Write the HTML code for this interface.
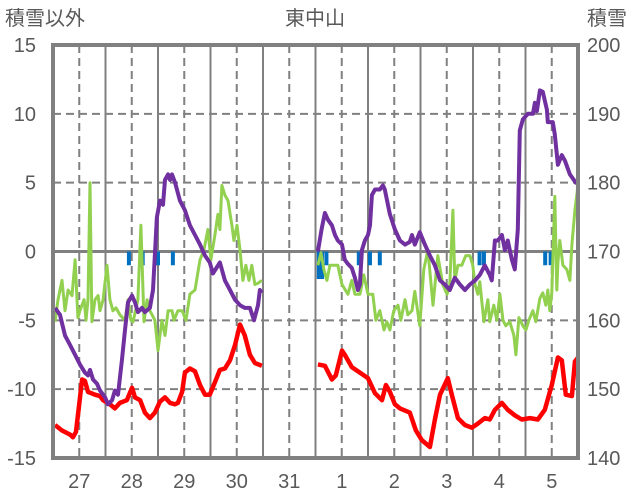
<!DOCTYPE html>
<html><head><meta charset="utf-8"><style>
html,body{margin:0;padding:0;background:#fff;}
svg{display:block;font-family:"Liberation Sans","Noto Sans CJK JP",sans-serif;}
</style></head><body>
<svg id="chart" width="636" height="501" viewBox="0 0 636 501" xmlns="http://www.w3.org/2000/svg">
<text x="5" y="25" font-size="20" fill="#595959">積雪以外</text>
<text x="315" y="25" font-size="20" fill="#595959" text-anchor="middle">東中山</text>
<text x="587" y="25" font-size="20" fill="#595959">積雪</text>
<g id="grid"></g>
<g id="bars"></g>
<g id="lines"></g>
<g id="axes"></g>
</svg>
<script>
const leftTicks=[15,10,5,0,-5,-10,-15];
const rightTicks=[200,190,180,170,160,150,140];
const dayLabels=["27","28","29","30","31","1","2","3","4","5"];
const barHours=[34.7,41.0,48.0,54.8,121.5,123.0,125.0,139.8,144.9,149.4,195.0,197.0,225.0,227.5];
const barValues=[-1,-1,-1,-1,-2,-2,-1,-1,-1,-1,-1,-1,-1,-1];
const purpleHours=[0.9,3.2,5.5,7.8,10.1,12.3,14.6,16.0,16.9,18.3,20.1,21.5,23.8,25.1,27.0,28.3,29.7,31.5,32.9,34.3,36.1,37.5,38.8,40.7,42.0,44.3,45.7,47.5,48.9,50.3,51.2,52.6,53.5,54.4,55.8,58.0,60.3,62.6,64.9,67.2,69.5,71.7,73.1,76.3,78.6,80.9,83.2,85.5,87.7,90.0,91.9,93.7,94.6,95.5,108,
121.1,122.9,124.3,125.7,127.5,128.9,130.2,132.1,133.4,134.8,136.6,138.0,139.4,140.3,141.2,142.6,144.0,144.9,145.8,147.2,149.4,150.8,151.7,154.0,156.3,158.6,160.9,163.1,164.1,165.4,167.7,170.0,172.3,174.6,176.9,179.1,181.4,183.7,186.0,188.3,190.6,192.9,195.1,197.4,199.7,200.6,202.0,203.4,205.2,206.6,207.9,208.8,209.8,211.1,212.5,213.4,214.8,217.1,219.4,220.3,221.2,222.6,223.9,225.8,226.2,228.5,229.4,230.8,232.6,234.0,236.3,239.0,240];
const purpleValues=[-4.1,-4.6,-6.1,-6.8,-7.5,-8.2,-8.8,-9.0,-8.6,-9.3,-9.6,-10.1,-10.6,-11.1,-10.8,-10.1,-10.4,-7.9,-5.7,-3.7,-3.2,-3.7,-4.4,-4.1,-4.4,-4.1,-2.8,2.5,3.7,3.4,5.2,5.6,5.2,5.6,5.0,3.7,3.0,1.9,1.2,0.5,-0.3,-0.8,-1.6,-0.8,-2.1,-2.8,-3.5,-3.9,-4.1,-4.1,-5.0,-3.9,-2.8,-3.0,null,
0,1.7,2.8,2.3,1.9,1.2,0.8,0.5,-0.6,-0.9,-1.2,-1.9,-2.8,-2.4,0.1,0.8,1.2,1.9,4.1,4.5,4.5,4.8,4.5,2.7,1.6,0.8,0.5,0.7,1.2,0.5,1.4,0.5,-0.3,-1.0,-2.1,-2.4,-2.8,-1.9,-2.4,-2.8,-2.4,-2.1,-1.7,-1.0,-1.7,-2.1,0.8,0.8,1.2,0.1,0.8,0.1,-0.6,-1.3,1.6,8.8,9.6,10.0,10.0,10.8,10.2,11.7,11.6,10.3,9.4,9.4,8.5,6.3,7.0,6.6,5.6,5.0,5.0];
const greenHours=[0.9,2.3,4.1,5.5,6.9,8.7,10.1,11.4,12.3,14.2,15.1,16.0,16.9,17.8,19.2,20.6,21.5,22.9,24.7,26.0,27.4,28.8,30.6,32.9,34.3,35.6,36.6,38.8,40.2,41.6,43.0,44.3,46.6,48.0,49.8,51.2,52.6,54.4,55.3,57.1,59.0,60.8,62.6,64.9,67.2,69.0,70.8,72.2,74.0,75.4,76.3,77.2,78.6,80.0,81.8,82.7,84.1,85.5,86.8,88.2,89.6,90.9,92.3,93.7,95.5,108,
121.1,122.5,123.8,125.2,126.6,130.2,132.1,134.8,136.6,138.0,140.3,142.1,144.0,146.2,147.6,149.4,151.3,152.6,154.0,155.8,157.7,159.0,160.9,162.2,164.1,165.4,167.7,169.5,171.4,173.7,175.9,178.2,180.1,181.4,182.8,183.7,185.1,186.9,188.7,190.6,191.9,192.9,194.2,195.1,197.0,198.8,199.7,201.5,202.9,204.3,205.7,207.0,208.8,210.7,211.6,213.0,214.8,216.2,217.5,219.4,220.7,222.6,223.9,225.3,226.2,227.1,228.0,229.4,230.3,230.8,231.7,233.1,234.9,236.3,237.2,238.6,240.0];
const greenValues=[-5.1,-3.5,-2.1,-4.3,-2.8,-3.2,-0.6,-4.8,-4.3,-3.5,-5.0,-3.5,5.0,-5.1,-3.5,-3.2,-4.3,-3.5,-1.0,-3.5,-4.3,-4.1,-4.6,-5.0,-3.5,-5.0,-5.1,-3.5,1.9,-5.1,-3.5,-4.3,-5.0,-7.2,-5.0,-6.1,-4.3,-4.3,-5.0,-4.3,-4.3,-5.0,-3.1,-2.8,-0.6,0.1,1.6,-0.6,1.2,2.7,1.6,4.8,4.1,3.7,1.9,0.8,1.9,0.1,-2.1,-1.0,-2.1,-1.0,-2.4,-2.3,-2.1,null,
-1.0,-0.1,-1.3,-2.1,-1.0,-1.0,-2.4,-3.1,-2.1,-3.1,-3.1,-1.7,-3.1,-3.1,-5.0,-4.3,-5.7,-5.1,-5.7,-4.3,-3.9,-5.0,-3.5,-4.6,-4.3,-2.9,-5.4,-1.3,0.1,-3.9,-0.3,-2.4,-3.1,-2.4,3.0,-2.1,-1.0,-1.0,-0.3,-0.3,-1.0,-2.4,-3.1,-2.2,-5.1,-3.5,-5.1,-3.9,-5.0,-3.1,-5.0,-5.4,-5.1,-6.1,-7.5,-4.8,-5.4,-5.7,-5.0,-4.3,-5.1,-3.4,-3.0,-3.9,-2.8,-4.3,-3.0,4.0,-2.8,-0.8,0.8,-1.0,-1.3,-2.1,0.5,3.0,4.8];
const redHours=[0.9,4.1,7.8,9.1,10.5,13.3,14.6,16.0,19.2,21.5,22.9,26.0,28.3,30.6,33.8,36.1,37.5,39.8,42.0,44.3,46.6,48.9,51.2,53.5,55.8,57.1,59.0,60.3,62.6,64.9,67.2,69.5,71.7,74.0,76.3,78.6,80.9,83.2,85.5,87.7,90.0,92.3,95.5,108,
121.1,124.3,127.5,129.3,132.1,133.4,136.6,140.3,144.0,147.2,150.4,152.2,154.0,156.3,158.6,163.1,165.9,168.6,172.3,174.6,176.9,180.5,182.3,185.1,188.3,191.5,194.2,197.4,199.7,202.0,205.2,207.9,211.1,214.3,218.0,221.6,224.8,228.0,230.8,232.6,234.4,237.2,238.6,240];
const redValues=[-12.6,-13.0,-13.3,-13.5,-13.1,-9.3,-9.4,-10.2,-10.4,-10.5,-10.8,-11.1,-11.4,-11.0,-10.8,-9.9,-10.6,-10.8,-11.7,-12.1,-11.7,-10.9,-10.6,-11.0,-11.1,-11.0,-10.2,-8.8,-8.5,-8.7,-9.7,-10.4,-10.4,-9.5,-8.6,-8.5,-7.9,-6.8,-5.3,-6.1,-7.5,-8.1,-8.3,null,
-8.2,-8.3,-9.3,-9.0,-7.2,-7.5,-8.4,-8.8,-9.2,-10.3,-10.8,-9.7,-10.2,-11.1,-11.4,-11.7,-13.0,-13.7,-14.2,-12.2,-10.4,-9.2,-10.4,-12.1,-12.6,-12.8,-12.5,-12.1,-12.2,-11.5,-11.0,-11.5,-11.9,-12.2,-12.1,-12.2,-11.5,-9.7,-7.7,-7.9,-10.4,-10.5,-8.0,-7.7];

const NS="http://www.w3.org/2000/svg";
const L=53,R=578,T=45,B=458;
const X=h=>L+(h/240)*(R-L);
const Y=v=>T+(15-v)/30*(B-T);
const Y2=v=>T+(200-v)/60*(B-T);
function mk(tag,attrs,parent){const e=document.createElementNS(NS,tag);for(const k in attrs)e.setAttribute(k,attrs[k]);parent.appendChild(e);return e;}
const grid=document.getElementById('grid'),bars=document.getElementById('bars'),lines=document.getElementById('lines'),axes=document.getElementById('axes');

leftTicks.forEach(v=>{
  if(v!==15&&v!==-15&&v!==0){
    const g=mk('line',{x1:L,x2:R,y1:Y(v),y2:Y(v),stroke:'#808080','stroke-width':2,'stroke-dasharray':'8,5'},grid);
    
    
  }
  const t=mk('text',{x:36,y:Y(v)+7,'font-size':20,fill:'#595959','text-anchor':'end'},axes);
  t.textContent=v;
  
  
});
rightTicks.forEach(v=>{
  const t=mk('text',{x:587,y:Y2(v)+7,'font-size':20,fill:'#595959'},axes);
  t.textContent=v;
  
  
});
dayLabels.forEach((d,i)=>{
  const xm=X(i*24+12),xs=X((i+1)*24);
  const dl=mk('line',{x1:xm,x2:xm,y1:T,y2:B,stroke:'#808080','stroke-width':2,'stroke-dasharray':'8,5'},grid);
  
  
  if(i<9){
    const sl=mk('line',{x1:xs,x2:xs,y1:T,y2:B,stroke:'#808080','stroke-width':2},grid);
    
    
  }
  const t=mk('text',{x:xm,y:488,'font-size':20,fill:'#595959','text-anchor':'middle'},axes);
  t.textContent=d;
  
  
});
const zl=mk('line',{x1:L,x2:R,y1:Y(0),y2:Y(0),stroke:'#808080','stroke-width':3},grid);



barHours.forEach((h,i)=>{
  const y0=Y(0),y1=Y(barValues[i]);
  const r=mk('rect',{x:X(h)-2,y:y0,width:4,height:y1-y0,fill:'#0070c0'},bars);
  
  
});

function drawLine(hours,vals,color,name,w){
  let d='',pen=false;
  hours.forEach((h,i)=>{const v=vals[i];if(v===null){pen=false;return;}d+=(pen?'L':'M')+X(h).toFixed(1)+','+Y(v).toFixed(1);pen=true;});
  const p=mk('path',{d:d,fill:'none',stroke:color,'stroke-width':w,'stroke-linejoin':'round'},lines);
  
  
}
drawLine(greenHours,greenValues,'#92d050','green-series',3);
drawLine(redHours,redValues,'#ff0000','red-series',4.5);
drawLine(purpleHours,purpleValues,'#7030a0','purple-series',4);

const fr=mk('rect',{x:L,y:T,width:R-L,height:B-T,fill:'none',stroke:'#808080','stroke-width':4},axes);


</script>
</body></html>
